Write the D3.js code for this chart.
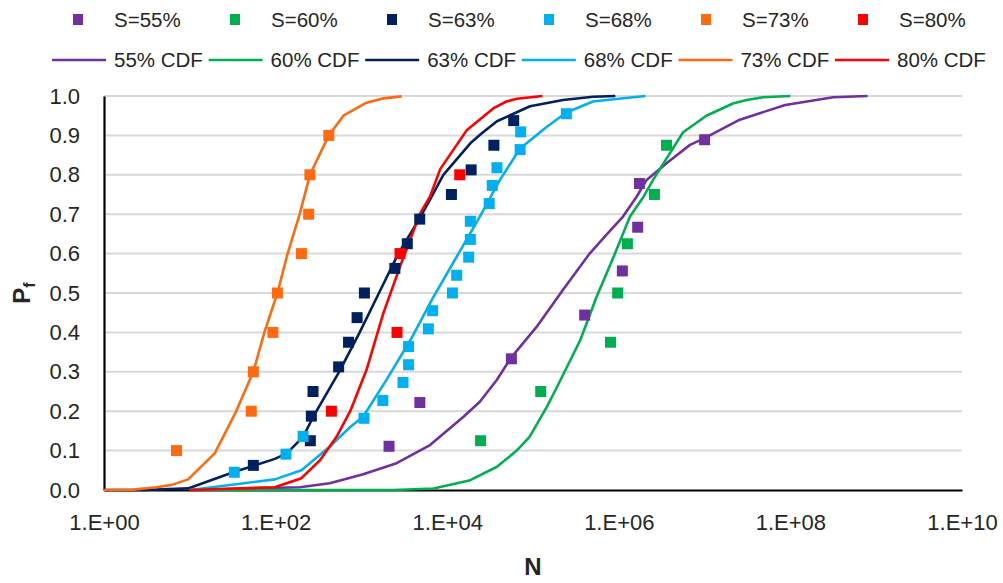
<!DOCTYPE html>
<html>
<head>
<meta charset="utf-8">
<script src="https://cdn.jsdelivr.net/npm/d3@7/dist/d3.min.js"></script>
<style>
  html, body { margin: 0; padding: 0; background: #fff; }
  svg { display: block; font-family: "Liberation Sans", Arial, sans-serif; }
</style>
</head>
<body>
<svg id="chart" width="1003" height="583"></svg>
<script>
// Series definitions
const seriesNames = ["55%", "60%", "63%", "68%", "73%", "80%"];
const seriesColors = ["#7030a0", "#00b050", "#002060", "#00b0f0", "#ff6a10", "#ff0000"];

// Test results: cycles to failure N and failure probability Pf
const n55 = [2.1e3, 4.8e3, 5.6e4, 4.0e5, 1.1e6, 1.66e6, 1.74e6, 1.0e7];
const p55 = [0.111, 0.222, 0.333, 0.444, 0.556, 0.667, 0.778, 0.889];
const n60 = [2.45e4, 1.23e5, 8.0e5, 9.7e5, 1.26e6, 2.6e6, 3.6e6];
const p60 = [0.125, 0.25, 0.375, 0.5, 0.625, 0.75, 0.875];
const n63 = [55, 254, 261, 273, 543, 708, 891, 1084, 2455, 3428, 4786, 1.12e4, 1.9e4, 3.5e4, 5.96e4];
const p63 = [0.0625, 0.125, 0.1875, 0.25, 0.3125, 0.375, 0.4375, 0.5, 0.5625, 0.625, 0.6875, 0.75, 0.8125, 0.875, 0.9375];
const n68 = [33, 132, 209, 1072, 1778, 3055, 3548, 3548, 6026, 6761, 1.15e4, 1.29e4, 1.78e4, 1.86e4, 1.86e4, 3.09e4, 3.35e4, 3.8e4, 7.08e4, 7.18e4, 2.45e5];
const p68 = [0.045, 0.091, 0.136, 0.182, 0.227, 0.273, 0.318, 0.364, 0.409, 0.455, 0.5, 0.545, 0.591, 0.636, 0.682, 0.727, 0.773, 0.818, 0.864, 0.909, 0.955];
const n73 = [7, 52, 55, 93, 105, 200, 243, 251, 417];
const p73 = [0.1, 0.2, 0.3, 0.4, 0.5, 0.6, 0.7, 0.8, 0.9];
const n80 = [447, 2600, 2818, 1.4e4];
const p80 = [0.2, 0.4, 0.6, 0.8];

// Fitted cumulative distribution curves
const cdfN55 = [10, 191, 427, 741, 1047, 2570, 6310, 1.55e4, 2.4e4, 3.8e4, 5.56e4, 1.1e5, 2.24e5, 4.57e5, 7.24e5, 1.12e6, 1.62e6, 2.11e6, 3.63e6, 6.76e6, 1.0e7, 2.57e7, 8.7e7, 3.16e8, 7.94e8];
const cdfP55 = [0, 0.007, 0.017, 0.031, 0.04, 0.068, 0.114, 0.186, 0.224, 0.28, 0.336, 0.414, 0.508, 0.6, 0.649, 0.694, 0.745, 0.787, 0.83, 0.876, 0.893, 0.94, 0.977, 0.997, 1.0];
const cdfN60 = [10, 2344, 6918, 1.86e4, 3.8e4, 6.46e4, 9.12e4, 1.45e5, 1.91e5, 3.55e5, 5.5e5, 8.71e5, 1.35e6, 1.95e6, 2.51e6, 5.62e6, 1.05e7, 2.14e7, 3.09e7, 4.79e7, 1.0e8];
const cdfP60 = [0, 0, 0.004, 0.025, 0.059, 0.1, 0.135, 0.211, 0.262, 0.38, 0.49, 0.592, 0.694, 0.745, 0.787, 0.908, 0.95, 0.981, 0.99, 0.997, 1.0];
const cdfN63 = [1, 2.9, 9.55, 33.9, 55, 98, 135, 209, 275, 550, 955, 1603, 2692, 4786, 6607, 9016, 1.86e4, 2.51e4, 3.8e4, 9.23e4, 2.24e5, 5.01e5, 9.12e5];
const cdfP63 = [0, 0, 0.004, 0.047, 0.061, 0.079, 0.093, 0.135, 0.186, 0.3, 0.4, 0.5, 0.6, 0.69, 0.745, 0.8, 0.88, 0.905, 0.936, 0.974, 0.99, 0.998, 1.0];
const cdfN68 = [10, 98, 200, 427, 741, 1047, 1950, 3715, 6918, 1.29e4, 2.4e4, 4.12e4, 7.08e4, 1.45e5, 2.45e5, 5.01e5, 7.24e5, 2.04e6];
const cdfP68 = [0, 0.027, 0.05, 0.11, 0.16, 0.186, 0.279, 0.38, 0.49, 0.592, 0.694, 0.787, 0.867, 0.922, 0.958, 0.986, 0.99, 1.0];
const cdfN73 = [1, 2.19, 4.07, 6.17, 9.55, 19.5, 33.9, 55, 74, 105, 138, 191, 251, 417, 617, 1148, 1820, 2951];
const cdfP73 = [0, 0.001, 0.007, 0.013, 0.027, 0.093, 0.195, 0.3, 0.4, 0.5, 0.6, 0.7, 0.8, 0.9, 0.95, 0.983, 0.994, 0.999];
const cdfN80 = [10, 98, 200, 331, 513, 741, 1148, 1799, 2818, 4786, 6310, 8318, 1.7e4, 3.47e4, 4.9e4, 6.46e4, 1.29e5];
const cdfP80 = [0, 0.007, 0.03, 0.076, 0.135, 0.2, 0.305, 0.448, 0.567, 0.7, 0.745, 0.815, 0.914, 0.969, 0.986, 0.993, 1.0];

// Axis ticks
const xTicks = [1e0, 1e2, 1e4, 1e6, 1e8, 1e10];
const xTickLabels = ["1.E+00", "1.E+02", "1.E+04", "1.E+06", "1.E+08", "1.E+10"];
const yTicks = [0, 0.1, 0.2, 0.3, 0.4, 0.5, 0.6, 0.7, 0.8, 0.9, 1.0];

const pointSets = [[n55, p55], [n60, p60], [n63, p63], [n68, p68], [n73, p73], [n80, p80]];
const curveSets = [[cdfN55, cdfP55], [cdfN60, cdfP60], [cdfN63, cdfP63], [cdfN68, cdfP68], [cdfN73, cdfP73], [cdfN80, cdfP80]];

const svg = d3.select("#chart");
const plotLeft = 104, plotRight = 962, plotTop = 96, plotBottom = 490;

const x = d3.scaleLog().domain([1, 1e10]).range([plotLeft, plotRight]);
const y = d3.scaleLinear().domain([0, 1]).range([plotBottom, plotTop]);

// Horizontal gridlines
svg.append("g").selectAll("line")
  .data(yTicks.slice(1))
  .join("line")
  .attr("x1", plotLeft).attr("x2", plotRight)
  .attr("y1", d => y(d)).attr("y2", d => y(d))
  .attr("stroke", "#d9d9d9").attr("stroke-width", 2);

// Y axis
const yAxis = d3.axisLeft(y).tickValues(yTicks).tickFormat(d3.format(".1f")).tickSize(0).tickPadding(24);
const gy = svg.append("g").attr("transform", `translate(${plotLeft},0)`).call(yAxis);
gy.select(".domain").attr("stroke", "#000").attr("stroke-width", 2.2);
gy.selectAll("text").attr("font-size", 22).attr("fill", "#262626")
  .attr("font-family", "Liberation Sans, Arial, sans-serif");

// X axis
const xAxis = d3.axisBottom(x).tickValues(xTicks)
  .tickFormat((d, i) => xTickLabels[i]).tickSize(0).tickPadding(24);
const gx = svg.append("g").attr("transform", `translate(0,${plotBottom})`).call(xAxis);
gx.select(".domain").attr("stroke", "#000").attr("stroke-width", 2.2);
gx.selectAll("text").attr("font-size", 22).attr("fill", "#262626")
  .attr("font-family", "Liberation Sans, Arial, sans-serif");

// Axis titles
svg.append("text")
  .attr("x", (plotLeft + plotRight) / 2).attr("y", 575)
  .attr("text-anchor", "middle").attr("font-size", 24).attr("font-weight", "bold")
  .attr("fill", "#262626").text("N");

const yTitle = svg.append("text")
  .attr("transform", `translate(30,${(plotTop + plotBottom) / 2}) rotate(-90)`)
  .attr("text-anchor", "middle").attr("font-size", 24).attr("font-weight", "bold")
  .attr("fill", "#262626");
yTitle.append("tspan").text("P");
yTitle.append("tspan").attr("font-size", 16).attr("dy", 5).text("f");

// CDF curves
const line = d3.line().x(d => x(d[0])).y(d => y(d[1]));
curveSets.forEach((c, i) => {
  const pts = c[0].map((n, k) => [n, c[1][k]]);
  svg.append("path")
    .datum(pts)
    .attr("d", line)
    .attr("fill", "none")
    .attr("stroke", seriesColors[i])
    .attr("stroke-width", 2.6)
    .attr("stroke-linejoin", "round");
});

// Test points
const ms = 11;
pointSets.forEach((s, i) => {
  const pts = s[0].map((n, k) => [n, s[1][k]]);
  svg.append("g").selectAll("rect")
    .data(pts)
    .join("rect")
    .attr("x", d => x(d[0]) - ms / 2)
    .attr("y", d => y(d[1]) - ms / 2)
    .attr("width", ms).attr("height", ms)
    .attr("fill", seriesColors[i]);
});

// Legend
const legendStep = 157;
const lg1 = svg.append("g");
seriesNames.forEach((name, i) => {
  const cx = 78 + i * legendStep;
  lg1.append("rect").attr("x", cx - 5).attr("y", 14).attr("width", 10).attr("height", 11)
    .attr("fill", seriesColors[i]);
  lg1.append("text").attr("x", cx + 36).attr("y", 27)
    .attr("font-size", 20.5).attr("fill", "#262626").text("S=" + name);
});
const lg2 = svg.append("g");
seriesNames.forEach((name, i) => {
  const x0 = 52 + i * 156.6;
  lg2.append("line").attr("x1", x0).attr("x2", x0 + 54).attr("y1", 60).attr("y2", 60)
    .attr("stroke", seriesColors[i]).attr("stroke-width", 2.6);
  lg2.append("text").attr("x", x0 + 62).attr("y", 67)
    .attr("font-size", 20.5).attr("fill", "#262626").text(name + " CDF");
});
</script>
</body>
</html>
